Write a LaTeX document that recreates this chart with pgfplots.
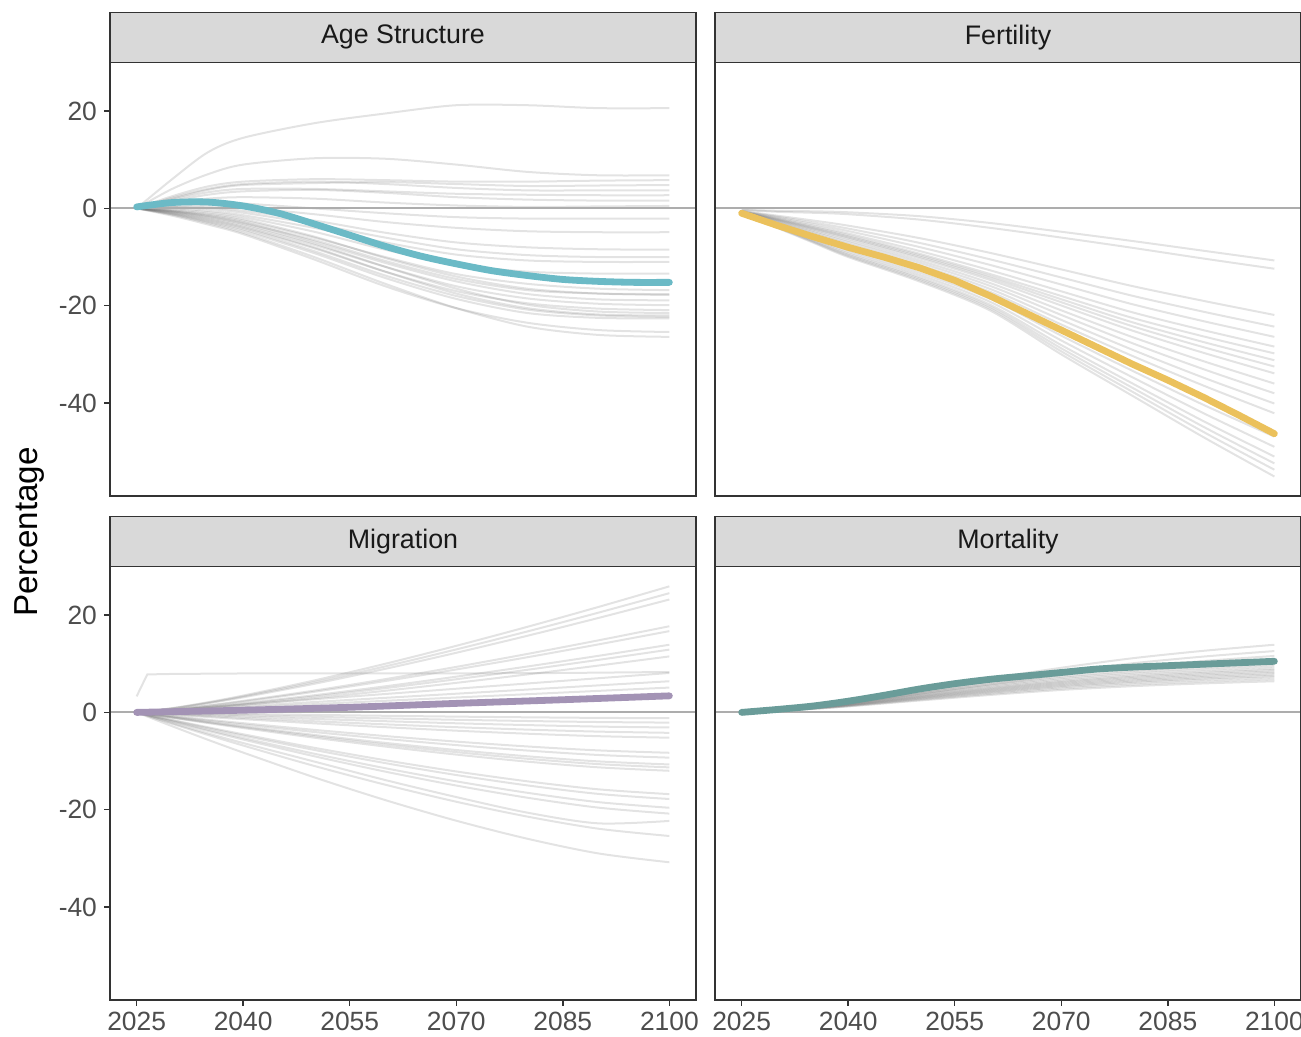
\documentclass[border=0pt]{standalone}
\usepackage{fontspec}
\setmainfont{Liberation Sans}
\usepackage{pgfplots}
\usepackage{pgfplotstable}
\pgfplotsset{compat=1.18}

\definecolor{cAge}{HTML}{6BBAC6}
\definecolor{cFer}{HTML}{EBC15C}
\definecolor{cMig}{HTML}{A393B5}
\definecolor{cMor}{HTML}{6A9C99}
\definecolor{stripgray}{HTML}{D9D9D9}
\definecolor{grey20}{HTML}{333333}
\definecolor{grey30}{HTML}{4D4D4D}
\definecolor{zerogray}{HTML}{ADADAD}

% Age Structure: 26 scenario lines
\pgfplotstableread{
yr c1 c2 c3 c4 c5 c6 c7 c8 c9 c10 c11 c12 c13 c14 c15 c16 c17 c18 c19 c20 c21 c22 c23 c24 c25 c26
2025 0 0 0 0 0 0 0 0 0 0 0 0 0 0 0 0 0 0 0 0 0 0 0 0 0 0
2030 6 4 2.5 2 2.2 1.8 1.5 1.2 0.8 0.5 0.3 0.2 0 -0.2 -0.5 -0.4 -0.6 -0.8 -1 -0.7 -1.2 -1.5 -1.3 -0.9 -0.6 -1.1
2035 11.5 7 4.5 3.8 4 3.3 2.8 2 1.2 0.6 0.2 -0.1 -0.5 -0.8 -1.3 -1.1 -1.5 -2 -2.4 -1.8 -2.8 -3.3 -3 -2.2 -1.6 -2.6
2040 14.5 9 5.5 4.8 5 4 3.5 2.3 1 0.2 -0.5 -0.9 -1.4 -1.8 -2.5 -2.2 -2.8 -3.5 -4 -3.2 -4.6 -5.3 -5 -3.8 -3 -4.3
2050 17.5 10.3 6 5.2 5.5 4 3.8 2 0 -1.2 -2.5 -3.2 -4 -4.8 -6 -5.8 -6.8 -7.5 -8.2 -7.2 -9.2 -10.5 -10 -8 -6.5 -8.8
2060 19.5 10.2 5.8 5.4 5 3.5 3.2 1.2 -1 -2.8 -5 -6 -7 -8.5 -10 -10.2 -11.2 -12 -13 -12 -14.3 -16 -15.5 -13 -10.8 -13.8
2070 21.2 9 5.5 5 4.2 3 2.3 0.6 -1.8 -4 -7 -8.4 -9.5 -11.5 -13.5 -14 -15 -16 -17 -16.5 -18.6 -20.5 -20.5 -17.5 -14.5 -18
2080 21.2 7.5 5.5 4.6 3.7 2.8 1.8 0.3 -2.1 -4.7 -8 -9.6 -10.7 -13 -15.5 -16.5 -17.6 -18.5 -19.5 -19.8 -21.5 -23.5 -24.3 -20.5 -16.8 -20.8
2090 20.6 6.8 5.7 4.7 3.7 2.7 1.6 0.4 -2.1 -4.9 -8.4 -10 -11 -13.4 -16.5 -17.5 -18.7 -19.6 -20.6 -21.2 -22.5 -25 -26 -21.8 -17.5 -22
2100 20.6 6.8 5.8 4.8 3.7 2.7 1.6 0.5 -2.1 -4.9 -8.5 -10 -11 -13.4 -16.8 -17.8 -18.9 -19.9 -20.9 -21.5 -22.6 -25.4 -26.4 -22 -17.6 -22.3
}\ageT

% Fertility: 20 scenario lines
\pgfplotstableread{
yr c1 c2 c3 c4 c5 c6 c7 c8 c9 c10 c11 c12 c13 c14 c15 c16 c17 c18 c19 c20
2025 -0.3 -0.3 -0.53 -0.58 -0.63 -0.67 -0.7 -0.72 -0.73 -0.75 -0.77 -0.8 -0.82 -0.85 -0.9 -0.93 -0.95 -0.97 -0.98 -1
2030 -0.5 -0.7 -1.5 -1.71 -1.9 -2.08 -2.2 -2.3 -2.39 -2.49 -2.64 -2.79 -2.94 -3.08 -3.42 -3.57 -3.71 -3.81 -3.91 -4
2035 -0.6 -0.9 -2.48 -2.88 -3.23 -3.57 -3.8 -3.98 -4.14 -4.32 -4.59 -4.84 -5.11 -5.36 -5.97 -6.24 -6.49 -6.67 -6.83 -7
2040 -0.8 -1.2 -3.55 -4.15 -4.66 -5.16 -5.5 -5.75 -5.98 -6.23 -6.61 -6.96 -7.34 -7.7 -8.56 -8.93 -9.28 -9.54 -9.77 -10
2050 -1.6 -2.3 -6.1 -7.08 -7.93 -8.74 -9.3 -9.62 -9.91 -10.23 -10.7 -11.15 -11.63 -12.08 -13.17 -13.64 -14.09 -14.41 -14.7 -15
2060 -3 -4 -9.15 -10.48 -11.63 -12.73 -13.5 -13.92 -14.3 -14.72 -15.35 -15.94 -16.57 -17.16 -18.59 -19.22 -19.81 -20.23 -20.61 -21
2070 -4.8 -6 -12.54 -14.2 -15.65 -17.04 -18 -18.67 -19.28 -19.96 -20.95 -21.9 -22.91 -23.86 -26.15 -27.14 -28.09 -28.76 -29.38 -30
2080 -6.7 -8.1 -15.96 -17.95 -19.69 -21.35 -22.5 -23.4 -24.21 -25.11 -26.44 -27.7 -29.04 -30.31 -33.36 -34.69 -35.96 -36.85 -37.67 -38.5
2090 -8.7 -10.3 -19 -21.23 -23.17 -25.02 -26.3 -27.46 -28.51 -29.67 -31.39 -33.03 -34.77 -36.4 -40.36 -42.07 -43.71 -44.87 -45.92 -47
2100 -10.7 -12.4 -21.9 -24.3 -26.4 -28.4 -29.8 -31.2 -32.5 -33.9 -36 -38 -40.1 -42.1 -46.9 -49 -51 -52.4 -53.7 -55.1
}\ferT

% Migration: 28 scenario lines
\pgfplotstableread{
yr c1 c2 c3 c4 c5 c6 c7 c8 c9 c10 c11 c12 c13 c14 c15 c16 c17 c18 c19 c20 c21 c22 c23 c24 c25 c26 c27 c28
2025 0 0 0 0 0 0 0 0 0 0 0 0 0 0 0 0 0 0 0 0 0 0 0 0 0 0 0 0
2030 0.88 0.83 0.79 0.6 0.57 0.47 0.44 0.39 0.54 0.43 0.34 -0.19 -0.29 -0.39 -0.48 -0.76 -0.86 -0.98 -1.1 -1.55 -1.64 -1.8 -2.2 -2.34 -2.84 -0.11 -1.04 -1.91
2035 2.08 1.97 1.87 1.42 1.34 1.12 1.04 0.93 1.08 0.85 0.68 -0.38 -0.56 -0.76 -0.95 -1.51 -1.69 -1.94 -2.18 -3.05 -3.23 -3.56 -4.3 -4.61 -5.61 -0.22 -2.06 -3.78
2040 3.46 3.28 3.1 2.37 2.23 1.86 1.72 1.54 1.62 1.28 1.02 -0.56 -0.83 -1.13 -1.39 -2.22 -2.49 -2.87 -3.22 -4.5 -4.78 -5.26 -6.3 -6.81 -8.26 -0.32 -3.03 -5.58
2050 6.56 6.2 5.87 4.48 4.23 3.52 3.27 2.91 2.7 2.13 1.7 -0.91 -1.34 -1.82 -2.25 -3.59 -4.03 -4.63 -5.2 -7.27 -7.71 -8.49 -10.1 -11 -13.34 -0.52 -4.89 -9.01
2060 9.99 9.45 8.95 6.83 6.44 5.36 4.98 4.44 3.78 2.99 2.38 -1.23 -1.81 -2.46 -3.04 -4.86 -5.44 -6.26 -7.02 -9.83 -10.42 -11.47 -13.9 -14.86 -18.02 -0.7 -6.61 -12.17
2070 13.68 12.94 12.25 9.35 8.82 7.34 6.81 6.07 4.86 3.84 3.06 -1.52 -2.24 -3.04 -3.76 -6 -6.72 -7.73 -8.67 -12.14 -12.87 -14.17 -17.4 -18.36 -22.26 -0.87 -8.17 -15.03
2080 17.58 16.63 15.74 12.01 11.33 9.43 8.75 7.8 5.94 4.69 3.74 -1.77 -2.61 -3.54 -4.38 -7 -7.84 -9.02 -10.12 -14.16 -15 -16.52 -20.6 -21.41 -25.96 -1.01 -9.53 -17.53
2090 21.66 20.49 19.4 14.8 13.97 11.62 10.79 9.62 7.02 5.55 4.42 -1.98 -2.92 -3.95 -4.89 -7.81 -8.75 -10.07 -11.29 -15.81 -16.75 -18.44 -22.8 -23.9 -28.98 -1.13 -10.63 -19.57
2100 25.9 24.5 23.2 17.7 16.7 13.9 12.9 11.5 8.1 6.4 5.1 -2.1 -3.1 -4.2 -5.2 -8.3 -9.3 -10.7 -12 -16.8 -17.8 -19.6 -22.3 -25.4 -30.8 -1.2 -11.3 -20.8
}\migT

% Mortality: 16 scenario lines
\pgfplotstableread{
yr c1 c2 c3 c4 c5 c6 c7 c8 c9 c10 c11 c12 c13 c14 c15 c16
2025 0 0 0 0 0 0 0 0 0 0 0 0 0 0 0 0
2030 0.56 0.5 0.46 0.55 0.51 0.49 0.47 0.45 0.44 0.42 0.41 0.39 0.38 0.36 0.34 0.32
2035 1.25 1.13 1.04 1.2 1.12 1.08 1.03 0.99 0.96 0.92 0.89 0.86 0.83 0.79 0.75 0.7
2040 2.22 2.02 1.86 2.07 1.94 1.86 1.79 1.71 1.65 1.6 1.54 1.48 1.43 1.37 1.29 1.22
2050 4.59 4.16 3.83 4.14 3.88 3.72 3.57 3.42 3.31 3.19 3.08 2.96 2.85 2.74 2.58 2.43
2060 6.95 6.3 5.8 6.1 5.71 5.49 5.26 5.04 4.87 4.7 4.54 4.37 4.2 4.03 3.81 3.58
2070 9.17 8.32 7.66 7.85 7.34 7.06 6.77 6.48 6.26 6.05 5.83 5.62 5.4 5.18 4.9 4.61
2080 11.12 10.08 9.28 9.16 8.57 8.23 7.9 7.56 7.31 7.06 6.8 6.55 6.3 6.05 5.71 5.38
2090 12.65 11.47 10.56 10.14 9.49 9.11 8.74 8.37 8.09 7.81 7.53 7.25 6.98 6.7 6.32 5.95
2100 13.9 12.6 11.6 10.9 10.2 9.8 9.4 9 8.7 8.4 8.1 7.8 7.5 7.2 6.8 6.4
}\morT

\pgfplotsset{
  facet/.style={
    scale only axis,
    width=293pt, height=216.8pt,
    xmin=2021.25, xmax=2103.75,
    ymin=-59.1, ymax=30,
    axis on top,
    axis line style={draw=grey20, line width=0.7pt},
    tick style={draw=grey20, line width=0.7pt},
    tick align=outside,
    major tick length=3pt,
    tick pos=left,
    xtick={2025,2040,2055,2070,2085,2100},
    ytick={-40,-20,0,20},
    /pgf/number format/1000 sep={},
    /pgf/number format/assume math mode=true,
    ticklabel style={font=\fontsize{13.2}{14}\selectfont, text=grey30},
    xticklabel style={inner sep=0.4pt, yshift=-2.6pt},
    every axis title shift=0pt,
    title style={at={(0.5,1)}, anchor=south, yshift=0pt,
      draw=grey20, line width=0.7pt, fill=stripgray,
      minimum width=293pt, minimum height=25pt, inner sep=0pt, outer sep=0pt,
      font=\fontsize{13.4}{14}\selectfont, text=black!90},
  },
  grayline/.style={black!55, opacity=0.2, line width=1pt, smooth, no markers},
  zeroline/.style={zerogray, line width=1.1pt, no markers},
  mainline/.style={line width=3.4pt, no markers, line join=round, line cap=round},
}

\begin{document}
\begin{tikzpicture}
\useasboundingbox (0,0) rectangle (650.5pt,518.5pt);

% Age Structure
\begin{axis}[facet, at={(55pt,270.5pt)}, anchor=south west,
  title={Age Structure}, xticklabels={}, xtick style={draw=none}]
  \pgfplotsinvokeforeach{1,...,26}{\addplot[grayline] table[x=yr,y=c#1]{\ageT};}
  \addplot[zeroline] coordinates {(2021.25,0) (2103.75,0)};
  \addplot[mainline, cAge, smooth] coordinates {
    (2025,0.3)(2030,1.2)(2035,1.3)(2040,0.5)(2045,-1)(2050,-3.2)(2055,-5.5)(2060,-7.8)
    (2065,-9.8)(2070,-11.4)(2075,-12.8)(2080,-13.8)(2085,-14.6)(2090,-15)(2095,-15.2)(2100,-15.2)};
\end{axis}

% Fertility
\begin{axis}[facet, at={(357.5pt,270.5pt)}, anchor=south west,
  title={Fertility}, xticklabels={}, yticklabels={}, tick style={draw=none}]
  \pgfplotsinvokeforeach{1,...,20}{\addplot[grayline] table[x=yr,y=c#1]{\ferT};}
  \addplot[zeroline] coordinates {(2021.25,0) (2103.75,0)};
  \addplot[mainline, cFer] coordinates {
    (2025,-1)(2030,-3.5)(2035,-5.8)(2040,-8)(2045,-10)(2050,-12.2)(2055,-14.8)(2060,-18)
    (2065,-21.5)(2070,-25)(2075,-28.5)(2080,-32)(2085,-35.3)(2090,-38.8)(2095,-42.5)(2100,-46.3)};
\end{axis}

% Migration
\begin{axis}[facet, at={(55pt,18.5pt)}, anchor=south west, title={Migration}]
  \pgfplotsinvokeforeach{1,...,28}{\addplot[grayline] table[x=yr,y=c#1]{\migT};}
  \addplot[black!55, opacity=0.2, line width=1pt, no markers] coordinates {
    (2025,3.3)(2026.5,7.8)(2030,7.9)(2040,8)(2055,8)(2070,8)(2085,8.1)(2100,8.3)};
  \addplot[zeroline] coordinates {(2021.25,0) (2103.75,0)};
  \addplot[mainline, cMig, smooth] coordinates {
    (2025,0)(2040,0.45)(2055,1.05)(2070,1.85)(2085,2.6)(2100,3.4)};
\end{axis}

% Mortality
\begin{axis}[facet, at={(357.5pt,18.5pt)}, anchor=south west, title={Mortality},
  yticklabels={}, ytick style={draw=none}]
  \pgfplotsinvokeforeach{1,...,16}{\addplot[grayline] table[x=yr,y=c#1]{\morT};}
  \addplot[zeroline] coordinates {(2021.25,0) (2103.75,0)};
  \addplot[mainline, cMor, smooth] coordinates {
    (2025,0)(2030,0.6)(2035,1.3)(2040,2.3)(2045,3.5)(2050,4.8)(2055,5.9)(2060,6.8)
    (2065,7.5)(2070,8.2)(2075,8.9)(2080,9.3)(2085,9.6)(2090,9.9)(2095,10.2)(2100,10.5)};
\end{axis}

\node[rotate=90, font=\fontsize{16.6}{18}\selectfont, text=black] at (15pt,252.5pt) {Percentage};
\end{tikzpicture}
\end{document}
